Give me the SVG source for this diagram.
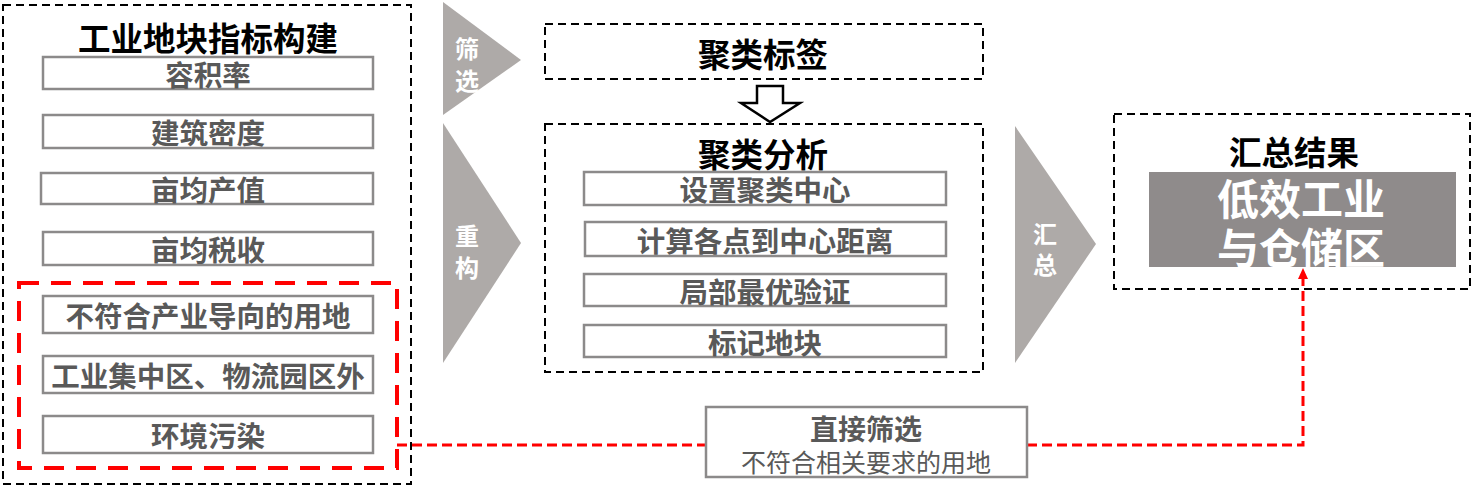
<svg xmlns="http://www.w3.org/2000/svg" width="1477" height="490" viewBox="0 0 1477 490">
<defs>
<style>
.dash{fill:none;stroke:#000;stroke-width:2;stroke-dasharray:8 5}
.box{fill:#fff;stroke:#8c8a8a;stroke-width:2.5}
.tri{fill:#aeaaa8}
.t{font-family:"Noto Sans CJK SC","Noto Sans",sans-serif;font-weight:bold;text-anchor:middle;dominant-baseline:central}
.title{font-size:32.5px;fill:#000}
.item{font-size:28.5px;fill:#595959}
.tt{font-size:24px;fill:#fff}
</style>
</defs>
<rect width="1477" height="490" fill="#fff"/>

<g id="connectors">
<polyline points="397,445 1303,445 1303,278" fill="none" stroke="#ff0000" stroke-width="3" stroke-dasharray="10 5"/>
<path d="M1298,279 L1303,268 L1308,279 z" fill="#ff0000"/>
<path id="down-arrow" d="M757,86 H783 V103 H800 L770,122 L741,103 H757 Z" fill="#fff" stroke="#000" stroke-width="2.5"/>
</g>

<g id="left-panel">
<rect class="dash" x="3" y="5" width="408" height="479"/>
<text class="t title" x="208" y="36">工业地块指标构建</text>
</g>
<g id="n-rongjilv"><rect class="box" x="43" y="57" width="330" height="32"/><text class="t item" x="208" y="73.5">容积率</text></g>
<g id="n-jianzhu"><rect class="box" x="43" y="115" width="330" height="33"/><text class="t item" x="208" y="131.5">建筑密度</text></g>
<g id="n-chanzhi"><rect class="box" x="41" y="173" width="332" height="31"/><text class="t item" x="208" y="188.5">亩均产值</text></g>
<g id="n-shuishou"><rect class="box" x="43" y="232" width="330" height="33"/><text class="t item" x="208" y="248.5">亩均税收</text></g>
<g id="red-group">
<rect x="19" y="283" width="378" height="185" fill="none" stroke="#ff0000" stroke-width="4" stroke-dasharray="20 12"/>
</g>
<g id="n-buhefu"><rect class="box" x="43" y="296" width="330" height="37"/><text class="t item" x="208" y="314.5">不符合产业导向的用地</text></g>
<g id="n-jizhong"><rect class="box" x="43" y="356" width="330" height="37"/><text class="t item" x="208" y="374.5">工业集中区、物流园区外</text></g>
<g id="n-huanjing"><rect class="box" x="43" y="416" width="330" height="37"/><text class="t item" x="208" y="434.5">环境污染</text></g>

<g id="arrow-shaixuan"><polygon class="tri" points="443,2 521,60 443,115"/><text class="t tt" x="467" y="47">筛</text><text class="t tt" x="467" y="79">选</text></g>
<g id="arrow-chonggou"><polygon class="tri" points="443,123 521,243 443,363"/><text class="t tt" x="467" y="234">重</text><text class="t tt" x="467" y="266">构</text></g>
<g id="arrow-huizong"><polygon class="tri" points="1015,126 1096,244 1015,363"/><text class="t tt" x="1045" y="232">汇</text><text class="t tt" x="1045" y="263">总</text></g>

<g id="n-biaoqian"><rect class="dash" x="545" y="24" width="438" height="55"/><text class="t title" x="763" y="52">聚类标签</text></g>
<g id="n-fenxi"><rect class="dash" x="545" y="124" width="438" height="248"/><text class="t title" x="763" y="152">聚类分析</text></g>
<g id="n-shezhi"><rect class="box" x="584" y="172" width="362" height="33"/><text class="t item" x="765" y="188.5">设置聚类中心</text></g>
<g id="n-jisuan"><rect class="box" x="585" y="222" width="361" height="34"/><text class="t item" x="765" y="239">计算各点到中心距离</text></g>
<g id="n-jubu"><rect class="box" x="584" y="274" width="362" height="32"/><text class="t item" x="765" y="290">局部最优验证</text></g>
<g id="n-biaoji"><rect class="box" x="584" y="325" width="362" height="32"/><text class="t item" x="765" y="341">标记地块</text></g>

<g id="n-huizong"><rect class="dash" x="1114" y="114" width="356" height="175"/><text class="t title" x="1294" y="150">汇总结果</text>
<rect x="1149" y="172" width="307" height="95" fill="#8f8b8b"/>
<text class="t" x="1301" y="196" style="font-size:42px;fill:#fff">低效工业</text>
<text class="t" x="1301" y="245" style="font-size:42px;fill:#fff">与仓储区</text></g>

<g id="n-zhijie"><rect class="box" x="706" y="407" width="321" height="70"/>
<text class="t" x="866" y="428" style="font-size:28px;fill:#595959">直接筛选</text>
<text class="t" x="866" y="461" style="font-size:25px;font-weight:normal;fill:#595959">不符合相关要求的用地</text></g>
</svg>
